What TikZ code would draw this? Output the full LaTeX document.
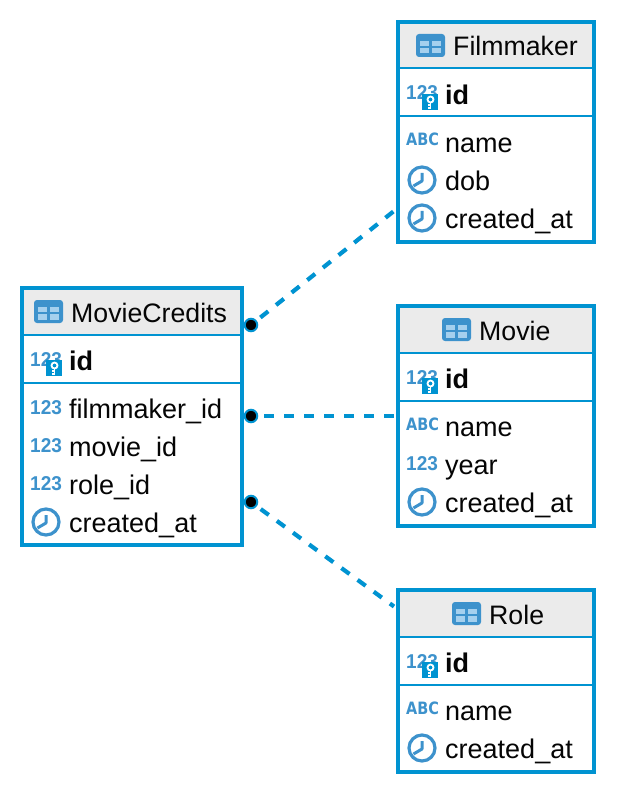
\documentclass[tikz,border=0pt]{standalone}
\usepackage{fontspec}
\setmainfont{Liberation Sans}
\newfontfamily\iconfont{DejaVu Sans}
\definecolor{boxblue}{HTML}{0093D1}
\definecolor{iconblue}{HTML}{3D92CC}
\definecolor{iconlight}{HTML}{A5D0EE}
\definecolor{headgray}{HTML}{EBEBEB}
\definecolor{inkblack}{HTML}{050505}
\tikzset{
  tablebox/.style={draw=boxblue,line width=4pt,fill=white,rectangle,inner sep=0pt,outer sep=0pt,anchor=north west},
  headfill/.style={fill=headgray,draw=none},
  sepline/.style={draw=boxblue,line width=2pt},
  rowtext/.style={anchor=base west,inner sep=0pt,yshift=-1.5pt,text=inkblack,font=\fontsize{27}{30}\selectfont},
  idtext/.style={rowtext,font=\fontsize{27}{30}\selectfont\bfseries},
  titletext/.style={anchor=base west,inner sep=0pt,yshift=-1pt,text=inkblack,font=\fontsize{26.7}{30}\selectfont},
  numtext/.style={anchor=base west,inner sep=0pt,text=iconblue,xscale=.95,font=\fontsize{20}{20}\selectfont\bfseries},
  abctext/.style={anchor=base west,inner sep=0pt,text=iconblue,xscale=.85,font=\iconfont\fontsize{17}{18}\selectfont\bfseries},
  linkline/.style={draw=boxblue,line width=4.2pt,dash pattern=on 10pt off 10pt,dash phase=14.25pt},
  linkflat/.style={linkline,dash phase=13.25pt},
  enddot/.style={circle,fill=black,draw=boxblue,line width=2pt,minimum size=12.5pt,inner sep=0pt,outer sep=0pt},
  clockline/.style={draw=iconblue,line width=3.2pt}
}
% table icon, at the centre of the header icon
\newcommand{\tblicon}[2]{%
  \begin{scope}[shift={(#1,#2)}]
    \fill[iconblue,rounded corners=3pt] (-14.5,-11.5) rectangle (14.5,11.5);
    \fill[iconlight] (-10.5,-4.7) rectangle (-1.2,0.3);
    \fill[iconlight] (1,-4.7) rectangle (10.7,0.3);
    \fill[iconlight] (-10.5,2.2) rectangle (-1.2,8);
    \fill[iconlight] (1,2.2) rectangle (10.7,8);
  \end{scope}}
% clock icon: box left, row baseline
\newcommand{\clockicon}[2]{%
  \begin{scope}[shift={(#1,#2)}]
    \draw[clockline] (24,-9) circle[radius=13];
    \draw[clockline,line width=3pt,line join=round] (24,-16) -- (24,-8) -- (15.5,-3);
  \end{scope}}
\newcommand{\keyicon}[2]{%
  \begin{scope}[shift={(#1,#2)}]
    \fill[boxblue] (24,-9) rectangle (40,7);
    \draw[white,line width=1.8pt] (32.5,-3.5) circle[radius=3];
    \draw[white,line width=1.8pt] (32.5,-0.5) -- (32.5,6) (32.5,2.2) -- (29.5,2.2) (32.5,5) -- (29.5,5);
  \end{scope}}
\begin{document}
\begin{tikzpicture}[x=1pt,y=-1pt]
\useasboundingbox (0,0) rectangle (616,794);

% --- connectors
\coordinate (fmEnd) at (394,211);
\coordinate (moEnd) at (398,416);
\coordinate (roEnd) at (394,606.5);
\node[enddot] (dotA) at (251,325) {};
\node[enddot] (dotB) at (251,416) {};
\node[enddot] (dotC) at (251,502) {};
\draw[linkline] (dotA) -- (fmEnd);
\draw[linkflat] (dotB) -- (moEnd);
\draw[linkline] (dotC) -- (roEnd);

% --- Filmmaker
\node[tablebox,minimum width=196pt,minimum height=220pt] (fm) at (398,22) {};
\fill[headfill] (400,24) rectangle (592,68);
\draw[sepline] (398,68.5) -- (594,68.5);
\draw[sepline] (398,116.5) -- (594,116.5);
\tblicon{430.5}{45.5}
\node[titletext] (fmT) at (453,55) {Filmmaker};
\node[numtext] (fmN1) at (406,100) {123};
\keyicon{398}{103}
\node[idtext] (fmR1) at (445,103) {id};
\node[abctext] (fmA2) at (406,146) {ABC};
\node[rowtext] (fmR2) at (445,151) {name};
\clockicon{398}{189}
\node[rowtext] (fmR3) at (445,189) {dob};
\clockicon{398}{227}
\node[rowtext] (fmR4) at (445,227) {created\_at};

% --- Movie
\node[tablebox,minimum width=196pt,minimum height=220pt] (mo) at (398,306) {};
\fill[headfill] (400,308) rectangle (592,352);
\draw[sepline] (398,352.5) -- (594,352.5);
\draw[sepline] (398,400.5) -- (594,400.5);
\tblicon{456.5}{329.5}
\node[titletext] (moT) at (479,339) {Movie};
\node[numtext] (moN1) at (406,384) {123};
\keyicon{398}{387}
\node[idtext] (moR1) at (445,387) {id};
\node[abctext] (moA2) at (406,430) {ABC};
\node[rowtext] (moR2) at (445,435) {name};
\node[numtext] (moN3) at (406,470) {123};
\node[rowtext] (moR3) at (445,473) {year};
\clockicon{398}{511}
\node[rowtext] (moR4) at (445,511) {created\_at};

% --- Role
\node[tablebox,minimum width=196pt,minimum height=182pt] (ro) at (398,590) {};
\fill[headfill] (400,592) rectangle (592,636);
\draw[sepline] (398,636.5) -- (594,636.5);
\draw[sepline] (398,684.5) -- (594,684.5);
\tblicon{466.5}{613.5}
\node[titletext] (roT) at (489,623) {Role};
\node[numtext] (roN1) at (406,668) {123};
\keyicon{398}{671}
\node[idtext] (roR1) at (445,671) {id};
\node[abctext] (roA2) at (406,714) {ABC};
\node[rowtext] (roR2) at (445,719) {name};
\clockicon{398}{757}
\node[rowtext] (roR3) at (445,757) {created\_at};

% --- MovieCredits
\node[tablebox,minimum width=220pt,minimum height=257pt] (mc) at (22,288) {};
\fill[headfill] (24,290) rectangle (240,334);
\draw[sepline] (22,335) -- (242,335);
\draw[sepline] (22,383) -- (242,383);
\tblicon{48.5}{311.5}
\node[titletext] (mcT) at (71,321) {MovieCredits};
\node[numtext] (mcN1) at (30,366) {123};
\keyicon{22}{369}
\node[idtext] (mcR1) at (69,369) {id};
\node[numtext] (mcN2) at (30,414) {123};
\node[rowtext] (mcR2) at (69,417) {filmmaker\_id};
\node[numtext] (mcN3) at (30,452) {123};
\node[rowtext] (mcR3) at (69,455) {movie\_id};
\node[numtext] (mcN4) at (30,490) {123};
\node[rowtext] (mcR4) at (69,493) {role\_id};
\clockicon{22}{531}
\node[rowtext] (mcR5) at (69,531) {created\_at};
\end{tikzpicture}
\end{document}
